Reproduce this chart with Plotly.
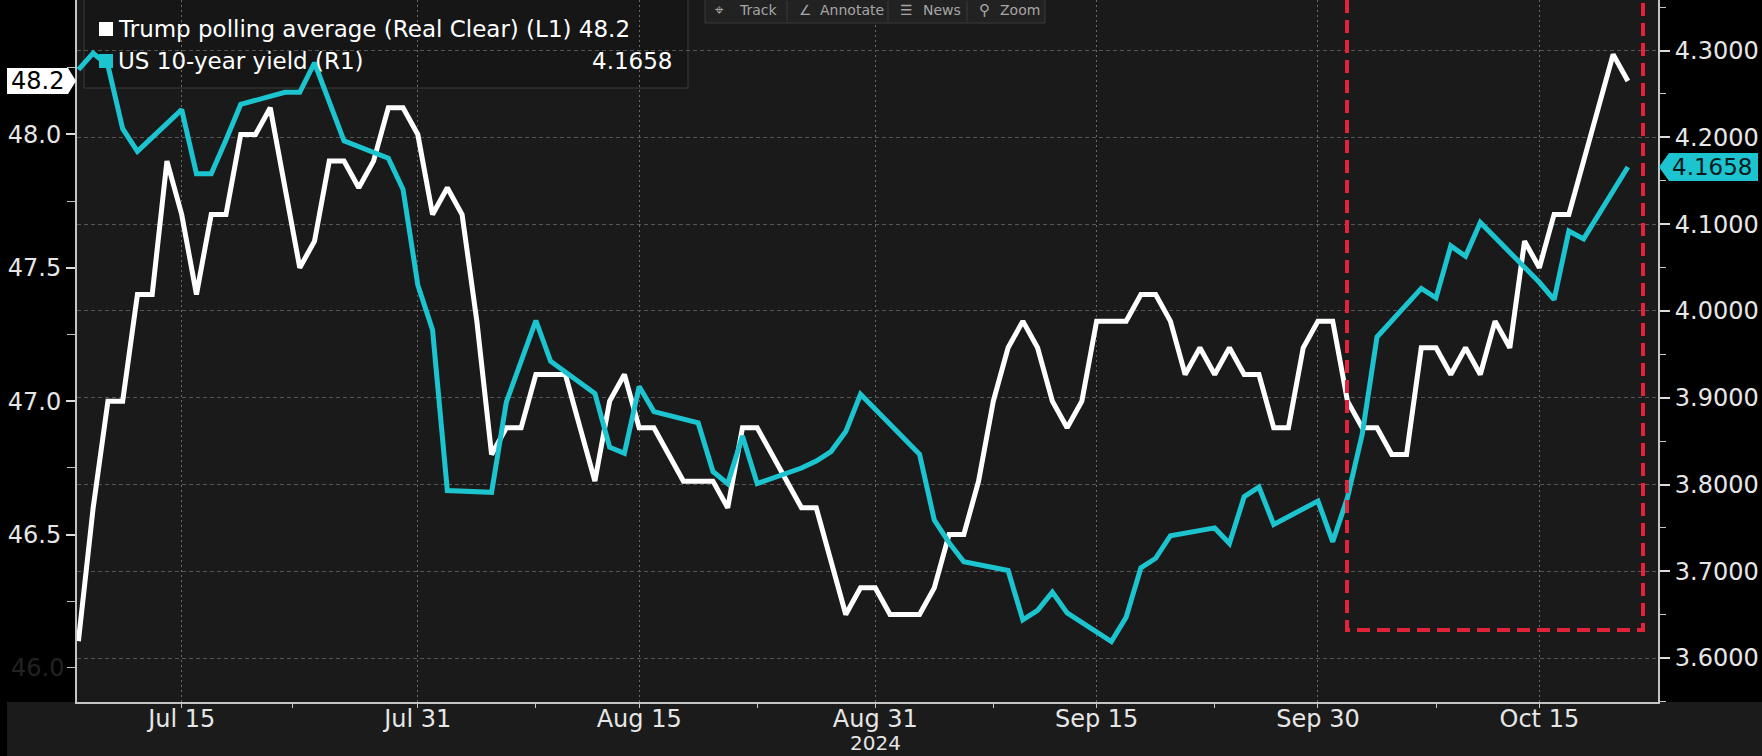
import plotly.graph_objects as go
import pandas as pd

# ---------------- data ----------------
# Trump polling average (Real Clear), daily from 2024-07-08 to 2024-10-21
poll_start = "2024-07-08"
poll_end = "2024-10-21"
poll_jul = [46.1, 46.6, 47.0, 47.0, 47.4, 47.4, 47.9, 47.7, 47.4, 47.7, 47.7, 48.0,
            48.0, 48.1, 47.8, 47.5, 47.6, 47.9, 47.9, 47.8, 47.9, 48.1, 48.1, 48.0]
poll_aug = [47.7, 47.8, 47.7, 47.3, 46.8, 46.9, 46.9, 47.1, 47.1, 47.1,
            46.9, 46.7, 47.0, 47.1, 46.9, 46.9, 46.8, 46.7, 46.7, 46.7,
            46.6, 46.9, 46.9, 46.8, 46.7, 46.6, 46.6, 46.4, 46.2, 46.3, 46.3]
poll_sep = [46.2, 46.2, 46.2, 46.3, 46.5, 46.5, 46.7, 47.0, 47.2, 47.3,
            47.2, 47.0, 46.9, 47.0, 47.3, 47.3, 47.3, 47.4, 47.4, 47.3,
            47.1, 47.2, 47.1, 47.2, 47.1, 47.1, 46.9, 46.9, 47.2, 47.3]
poll_oct = [47.3, 47.0, 46.9, 46.9, 46.8, 46.8, 47.2, 47.2, 47.1, 47.2,
            47.1, 47.3, 47.2, 47.6, 47.5, 47.7, 47.7, 47.9, 48.1, 48.3, 48.2]

# US 10-year yield, business days
yield_dates = [
    "2024-07-08", "2024-07-09", "2024-07-10", "2024-07-11", "2024-07-12",
    "2024-07-15", "2024-07-16", "2024-07-17", "2024-07-18", "2024-07-19",
    "2024-07-22", "2024-07-23", "2024-07-24", "2024-07-25", "2024-07-26",
    "2024-07-29", "2024-07-30", "2024-07-31", "2024-08-01", "2024-08-02",
    "2024-08-05", "2024-08-06", "2024-08-07", "2024-08-08", "2024-08-09",
    "2024-08-12", "2024-08-13", "2024-08-14", "2024-08-15", "2024-08-16",
    "2024-08-19", "2024-08-20", "2024-08-21", "2024-08-22", "2024-08-23",
    "2024-08-26", "2024-08-27", "2024-08-28", "2024-08-29", "2024-08-30",
    "2024-09-03", "2024-09-04", "2024-09-05", "2024-09-06",
    "2024-09-09", "2024-09-10", "2024-09-11", "2024-09-12", "2024-09-13",
    "2024-09-16", "2024-09-17", "2024-09-18", "2024-09-19", "2024-09-20",
    "2024-09-23", "2024-09-24", "2024-09-25", "2024-09-26", "2024-09-27",
    "2024-09-30", "2024-10-01", "2024-10-02", "2024-10-03", "2024-10-04",
    "2024-10-07", "2024-10-08", "2024-10-09", "2024-10-10", "2024-10-11",
    "2024-10-15", "2024-10-16", "2024-10-17", "2024-10-18",
    "2024-10-21",
]
yield_values = [
    4.278, 4.297, 4.283, 4.210, 4.184,
    4.232, 4.158, 4.158, 4.197, 4.238,
    4.252, 4.252, 4.286, 4.240, 4.196,
    4.176, 4.140, 4.030, 3.978, 3.793,
    3.791, 3.895, 3.942, 3.989, 3.942,
    3.905, 3.843, 3.836, 3.913, 3.884,
    3.871, 3.815, 3.801, 3.856, 3.801,
    3.819, 3.827, 3.838, 3.861, 3.904,
    3.835, 3.759, 3.733, 3.711,
    3.701, 3.644, 3.655, 3.676, 3.652,
    3.619, 3.647, 3.704, 3.715, 3.741,
    3.750, 3.732, 3.786, 3.797, 3.754,
    3.781, 3.734, 3.785, 3.858, 3.970,
    4.026, 4.015, 4.075, 4.063, 4.102,
    4.033, 4.013, 4.092, 4.083,
    4.1658,
]

x_tick_dates = ["2024-07-15", "2024-07-31", "2024-08-15", "2024-08-31",
                "2024-09-15", "2024-09-30", "2024-10-15"]
x_tick_labels = ["Jul 15", "Jul 31", "Aug 15", "Aug 31", "Sep 15", "Sep 30", "Oct 15"]
x_minor_dates = ["2024-07-22 12:00", "2024-08-08", "2024-08-23", "2024-09-08",
                 "2024-09-23", "2024-10-08"]
left_tick_vals = [46.5, 47.0, 47.5, 48.0]
left_tick_labels = ["46.5", "47.0", "47.5", "48.0"]
year_label = "2024"
poll_name = "Trump polling average (Real Clear) (L1)"
yield_name = "US 10-year yield (R1)"

poll_dates = pd.date_range(poll_start, poll_end, freq="D")
poll_values = poll_jul + poll_aug + poll_sep + poll_oct
poll_last = poll_values[-1]
yield_last = yield_values[-1]

# ---------------- layout geometry ----------------
W, H = 1762, 756
ML, MR, MT, MB = 77, 104, 0, 54
PW = W - ML - MR
PH = H - MT - MB
Y1_RANGE = [45.872, 48.504]
Y2_RANGE = [3.5494, 4.3583]
X_RANGE = ["2024-07-07 21:43", "2024-10-23 01:00"]


def px(x):
    return (x - ML) / PW


def py(y):
    return (MT + PH - y) / PH


def val_to_py1(v):
    return MT + PH * (Y1_RANGE[1] - v) / (Y1_RANGE[1] - Y1_RANGE[0])


def val_to_py2(v):
    return MT + PH * (Y2_RANGE[1] - v) / (Y2_RANGE[1] - Y2_RANGE[0])


def path(points, close=True):
    s = "M " + " L ".join(f"{px(x):.5f},{py(y):.5f}" for x, y in points)
    return s + (" Z" if close else "")


WHITE = "#ffffff"
TEAL = "#1bc4ce"
RED = "#e3233c"
FONT = "DejaVu Sans"
LABEL = "#e6e6e6"
AXIS = "#c4c4c4"

fig = go.Figure()
fig.add_trace(go.Scatter(x=yield_dates, y=yield_values, mode="lines", name=yield_name,
                         line=dict(color=TEAL, width=5), yaxis="y2"))
fig.add_trace(go.Scatter(x=poll_dates, y=poll_values, mode="lines", name=poll_name,
                         line=dict(color=WHITE, width=5), yaxis="y"))

shapes = []
# bottom band
shapes.append(dict(type="rect", xref="paper", yref="paper", x0=px(7), x1=px(W + 5),
                   y0=py(PH + MT), y1=py(H + 5), fillcolor="#1b1b1b", line=dict(width=0),
                   layer="below"))
# legend box
shapes.append(dict(type="rect", xref="paper", yref="paper", x0=px(84), x1=px(688),
                   y0=py(88), y1=py(-4), fillcolor="#161616",
                   line=dict(color="#3a3a3a", width=1), layer="below"))
# legend markers
shapes.append(dict(type="rect", xref="paper", yref="paper", x0=px(99), x1=px(113),
                   y0=py(36), y1=py(22), fillcolor=WHITE, line=dict(width=0)))
shapes.append(dict(type="rect", xref="paper", yref="paper", x0=px(99), x1=px(113),
                   y0=py(68), y1=py(54), fillcolor=TEAL, line=dict(width=0)))
# red dashed highlight
shapes.append(dict(type="path", xref="paper", yref="paper",
                   path=path([(1347, -20), (1347, 630), (1643, 630), (1643, -20)], close=False),
                   line=dict(color=RED, width=4, dash="13px,7px")))
# toolbar
shapes.append(dict(type="rect", xref="paper", yref="paper", x0=px(705), x1=px(1045),
                   y0=py(23), y1=py(-3), fillcolor="#222222",
                   line=dict(color="#3a3a3a", width=1)))
for sx in [787, 888, 967]:
    shapes.append(dict(type="line", xref="paper", yref="paper", x0=px(sx), x1=px(sx),
                       y0=py(21), y1=py(1), line=dict(color="#3a3a3a", width=1)))
# last-value tags
cy2 = val_to_py2(yield_last)
shapes.append(dict(type="path", xref="paper", yref="paper",
                   path=path([(1659, cy2), (1669, cy2 - 14), (1758, cy2 - 14),
                              (1758, cy2 + 14), (1669, cy2 + 14)]),
                   fillcolor=TEAL, line=dict(width=0)))
cy1 = val_to_py1(poll_last)
shapes.append(dict(type="path", xref="paper", yref="paper",
                   path=path([(7, cy1 - 13), (68, cy1 - 13), (76, cy1),
                              (68, cy1 + 13), (7, cy1 + 13)]),
                   fillcolor=WHITE, line=dict(width=0)))

annotations = []


def ann(text, x, y, size, color, xanchor="left", xref="paper", yanchor="middle"):
    annotations.append(dict(text=text, x=x, y=y, xref=xref, yref="paper",
                            xanchor=xanchor, yanchor=yanchor, showarrow=False,
                            font=dict(family=FONT, size=size, color=color)))


ann(f"{poll_name} {poll_last:.1f}", px(116), py(29), 23, WHITE)
ann(yield_name, px(116), py(61), 23, WHITE)
ann(f"{yield_last:.4f}", px(674), py(61), 23, WHITE, xanchor="right")
ann(f"{yield_last:.4f}", px(1712), py(cy2), 23, "#0c1a1b", xanchor="center")
ann(f"{poll_last:.1f}", px(37), py(cy1), 24, "#000000", xanchor="center")
ann("46.0", px(66), py(val_to_py1(46.0)), 24, "#222222", xanchor="right")
ann(year_label, "2024-08-31", py(743), 20, LABEL, xanchor="center", xref="x")
# toolbar labels
TB = "#a6a6a6"
ann("⌖", px(713), py(10), 15, TB)
ann("Track", px(737), py(10), 14, TB)
ann("∠", px(797), py(10), 14, TB)
ann("Annotate", px(818), py(10), 14, TB)
ann("☰", px(898), py(10), 14, TB)
ann("News", px(921), py(10), 14, TB)
ann("⚲", px(977), py(10), 15, TB)
ann("Zoom", px(998), py(10), 14, TB)

fig.update_layout(
    width=W, height=H,
    margin=dict(l=ML, r=MR, t=MT, b=MB, pad=0),
    paper_bgcolor="#000000",
    plot_bgcolor="#1a1a1a",
    showlegend=False,
    shapes=shapes,
    annotations=annotations,
    hovermode=False,
    xaxis=dict(
        type="date", range=X_RANGE, automargin=False,
        tickmode="array", tickvals=x_tick_dates, ticktext=x_tick_labels,
        ticks="outside", ticklen=4, tickwidth=1, tickcolor=AXIS,
        ticklabelstandoff=-10,
        tickfont=dict(family=FONT, size=24, color=LABEL),
        showline=True, linecolor=AXIS, linewidth=2,
        showgrid=True, gridcolor="#6a6a6a", gridwidth=1, griddash="2px,3px",
        zeroline=False,
        minor=dict(tickmode="array", tickvals=x_minor_dates, ticks="outside",
                   ticklen=4, tickwidth=1, tickcolor=AXIS, showgrid=False),
    ),
    yaxis=dict(
        range=Y1_RANGE, side="left", automargin=False,
        tickmode="array", tickvals=left_tick_vals, ticktext=left_tick_labels,
        ticks="outside", ticklen=9, tickwidth=2, tickcolor="#dcdcdc",
        tickfont=dict(family=FONT, size=24, color=LABEL),
        showline=True, linecolor=AXIS, linewidth=2,
        showgrid=False, zeroline=False,
        minor=dict(tickmode="array", tickvals=[46.0, 46.25, 46.75, 47.25, 47.75, 48.25],
                   ticks="outside", ticklen=8, tickwidth=1, tickcolor=AXIS, showgrid=False),
    ),
    yaxis2=dict(
        range=Y2_RANGE, side="right", overlaying="y", automargin=False,
        tickmode="linear", tick0=3.6, dtick=0.1, tickformat=".4f",
        ticks="outside", ticklen=10, tickwidth=2, tickcolor="#dcdcdc",
        tickfont=dict(family=FONT, size=24, color=LABEL),
        showline=True, linecolor=AXIS, linewidth=2,
        showgrid=True, gridcolor="#555555", gridwidth=1, griddash="4px,3px",
        zeroline=False,
        minor=dict(tickmode="linear", tick0=3.55, dtick=0.1, ticks="outside",
                   ticklen=6, tickwidth=1, tickcolor=AXIS, showgrid=False),
    ),
)

fig.write_html("out.html", config={"displayModeBar": False},
               post_script="document.body.style.margin='0px';"
                           "document.body.style.overflow='hidden';")
